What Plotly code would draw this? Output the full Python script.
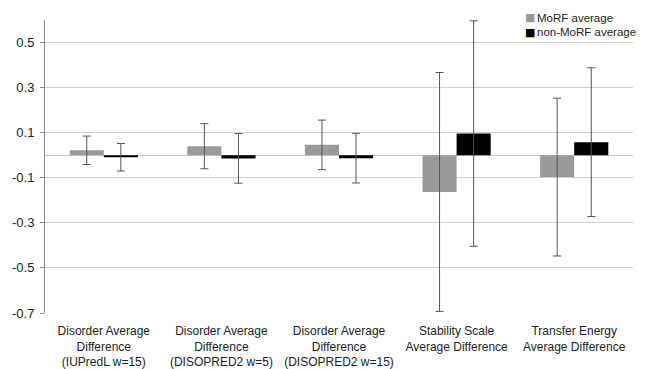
import plotly.graph_objects as go

categories = [
    "Disorder Average<br>Difference<br>(IUPredL w=15)",
    "Disorder Average<br>Difference<br>(DISOPRED2 w=5)",
    "Disorder Average<br>Difference<br>(DISOPRED2 w=15)",
    "Stability Scale<br>Average Difference",
    "Transfer Energy<br>Average Difference",
]
morf_avg = [0.022, 0.040, 0.046, -0.163, -0.097]
morf_err = [0.063, 0.100, 0.110, 0.530, 0.350]
nonmorf_avg = [-0.009, -0.014, -0.013, 0.096, 0.058]
nonmorf_err = [0.061, 0.110, 0.110, 0.500, 0.330]
tick_vals = [-0.7, -0.5, -0.3, -0.1, 0.1, 0.3, 0.5]
tick_text = ["-0.7", "-0.5", "-0.3", "-0.1", "0.1", "0.3", "0.5"]
series_names = ["MoRF average", "non-MoRF average"]
series_colors = ["#9a9a9a", "#000000"]

FONT = "Liberation Sans, Arial, sans-serif"
TXT = "#222222"
err_style = dict(type="data", thickness=1, width=4, color="#555555")

# page body has an 8px default margin; figure sized so the plot area lands
# at x 45..633, y 20..313 in the 645x369 window
PLOT_L, PLOT_R, PLOT_T, PLOT_B = 45, 633, 20, 313
PW, PH = PLOT_R - PLOT_L, PLOT_B - PLOT_T

fig = go.Figure()
for name, vals, errs, col in zip(series_names, [morf_avg, nonmorf_avg],
                                 [morf_err, nonmorf_err], series_colors):
    fig.add_trace(go.Bar(
        name=name, x=categories, y=vals,
        marker=dict(color=col, line=dict(width=0)),
        error_y=dict(array=errs, **err_style),
        showlegend=False,
    ))

# legend drawn as text annotations (square glyph + label)
annotations = []
for i, (name, col) in enumerate(zip(series_names, series_colors)):
    ypix = 18 + 14 * i
    annotations.append(dict(
        xref="paper", yref="paper", x=(523 - PLOT_L) / PW, y=(PLOT_B - ypix) / PH,
        xanchor="left", yanchor="middle", showarrow=False,
        text="■", font=dict(family="DejaVu Sans", size=11, color=col),
    ))
    annotations.append(dict(
        xref="paper", yref="paper", x=(535 - PLOT_L) / PW, y=(PLOT_B - ypix) / PH,
        xanchor="left", yanchor="middle", showarrow=False,
        text=name, font=dict(family=FONT, size=11.5, color=TXT),
    ))

fig.update_layout(
    width=637, height=361,
    margin=dict(l=37, r=12, t=12, b=56),
    paper_bgcolor="white", plot_bgcolor="white",
    barmode="group", bargap=0.42, bargroupgap=0,
    font=dict(family=FONT, size=12, color=TXT),
    showlegend=False,
    annotations=annotations,
    xaxis=dict(
        showgrid=False, showline=False, ticks="",
        tickfont=dict(size=12, color=TXT),
        automargin=False, ticklabelstandoff=9,
    ),
    yaxis=dict(
        range=[-0.7, 0.6], tickvals=tick_vals, ticktext=tick_text,
        showgrid=True, gridcolor="#d0d0d0", gridwidth=1,
        zeroline=True, zerolinecolor="#c8c8c8", zerolinewidth=1,
        showline=True, linecolor="#8a8a8a", linewidth=1,
        ticks="outside", ticklen=4, tickcolor="#8a8a8a",
        tickfont=dict(size=13, color=TXT),
        automargin=False, ticklabelstandoff=3,
    ),
)

fig.write_html("out.html")
